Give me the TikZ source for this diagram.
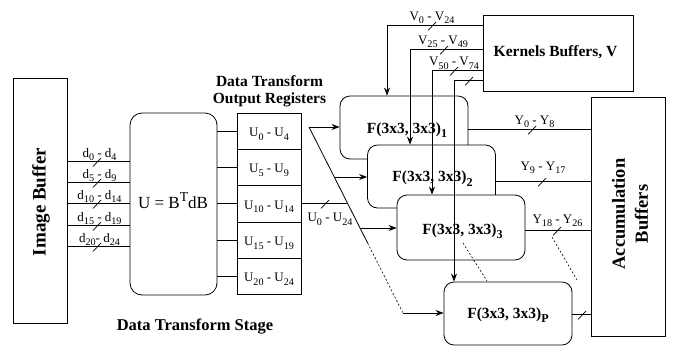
\documentclass[tikz,border=0pt]{standalone}
\usepackage{fontspec}
\setmainfont{Liberation Serif}
\usepackage{graphicx}
\usetikzlibrary{arrows.meta}
\newcommand\lo[1]{\raisebox{-0.28em}{\scalebox{0.78}{#1}}}
\newcommand\hi[1]{\raisebox{0.42em}{\scalebox{0.8}{#1}}}
\begin{document}
\begin{tikzpicture}[x=1pt,y=-1pt,line width=0.8pt,
  lbl/.style={font=\fontsize{13}{15}\selectfont,inner sep=0pt,anchor=base},
  bx/.style={draw,inner sep=0pt},
  fbx/.style={draw,fill=white,rounded corners=10pt,inner sep=0pt,minimum width=128pt,minimum height=63pt},
  ftxt/.style={font=\fontsize{15.5}{18}\selectfont\bfseries,inner sep=0pt,anchor=base},
  btxt/.style={font=\fontsize{15.5}{16}\selectfont\bfseries,inner sep=0pt,align=center},
  arr/.style={-{Stealth[length=8pt,width=6pt]}},
  dsh/.style={line width=0.6pt,dash pattern=on 2pt off 2pt},
  slashmark/.pic={\draw[line width=0.7pt] (-4,5.5) -- (4,-3);}
  ]
\useasboundingbox (0,0) rectangle (674,349);
% Image buffer
\node[bx,minimum width=54pt,minimum height=245pt] (ib) at (40,200.5) {};
\node[font=\fontsize{19}{20}\selectfont\bfseries,rotate=90,inner sep=0pt] (ibt) at (41,202) {Image Buffer};
% U block
\node[bx,rounded corners=12pt,minimum width=87pt,minimum height=182pt] (ub) at (173.5,204) {};
\node[font=\fontsize{17}{18}\selectfont,inner sep=0pt,anchor=base] (ubt) at (173,208.3) {U = B\hi{T}dB};
% registers
\node[bx,minimum width=64pt,minimum height=181pt] (rg) at (269,203.5) {};
\foreach \yy in {149,185,222,258} \draw (rg.west |- 0,\yy) -- (rg.east |- 0,\yy);
\node[lbl] (r0) at (269,136.5) {U\lo{0} - U\lo{4}};
\node[lbl] (r1) at (269,172.5) {U\lo{5} - U\lo{9}};
\node[lbl] (r2) at (269,209) {U\lo{10} - U\lo{14}};
\node[lbl] (r3) at (269,245.5) {U\lo{15} - U\lo{19}};
\node[lbl] (r4) at (269,281.5) {U\lo{20} - U\lo{24}};
\node[btxt,anchor=base] (ttl1) at (269.5,86.7) {Data Transform};
\node[btxt,anchor=base] (ttl2) at (269.5,103.3) {Output Registers};
\node[btxt,anchor=base,font=\fontsize{16.5}{18}\selectfont\bfseries] (stg) at (195,330) {Data Transform Stage};
% d lines
\foreach \yy/\tx [count=\i] in {161/{d\lo{0} - d\lo{4}},182/{d\lo{5} - d\lo{9}},203/{d\lo{10} - d\lo{14}},225/{d\lo{15} - d\lo{19}},246/{d\lo{20}- d\lo{24}}}{
  \draw (ib.east |- 0,\yy) -- (ub.west |- 0,\yy);
  \pic at (97,\yy) {slashmark};
  \node[lbl] (dl\i) at (99.5,\yy-4) {\tx};
}
% U to registers
\foreach \yy in {131,167,203,240,276} \draw (ub.east |- 0,\yy) -- (rg.west |- 0,\yy);
% F boxes
\node[fbx] (f1) at (404,127.5) {};
\node[fbx] (f2) at (431.5,176.5) {};
\node[fbx,minimum height=65pt] (f3) at (461,227.5) {};
\node[fbx] (fp) at (508,313.5) {};
\node[ftxt] (f1t) at (407,133) {F(3x3, 3x3)\lo{1}};
\node[ftxt] (f2t) at (432.5,181.7) {F(3x3, 3x3)\lo{2}};
\node[ftxt] (f3t) at (462.5,234) {F(3x3, 3x3)\lo{3}};
\node[ftxt] (fpt) at (508,318) {F(3x3, 3x3)\lo{P}};
% kernel buffers
\node[bx,minimum width=150pt,minimum height=76pt] (kb) at (558,53) {};
\node[btxt,anchor=base] (kbt) at (555.5,56.7) {Kernels Buffers, V};
% accumulation buffers
\node[bx,minimum width=74pt,minimum height=239pt] (ab) at (628,216.5) {};
\node[font=\fontsize{18.5}{23}\selectfont\bfseries,rotate=90,inner sep=0pt,align=center] (abt) at (630,214) {Accumulation\\Buffers};
% diagonal distribution
\coordinate (d0) at (309,127);
\coordinate (dm) at (367.6,243);
\coordinate (d1) at (403,313);
\coordinate (q2) at (334.3,177);
\coordinate (q3) at (360,228);
\coordinate (qb) at (347.4,203);
\draw[arr] (d0) -- (f1.west |- d0);
\draw (d0) -- (dm);
\draw[dsh] (dm) -- (d1);
\draw[arr] (d1) -- (fp.west |- d1);
\draw[arr] (q2) -- (f2.west |- q2);
\draw[arr] (q3) -- (f3.west |- q3);
\draw (rg.east |- qb) -- (qb);
\pic at (325,203) {slashmark};
\node[lbl] (ubus) at (330,221.7) {U\lo{0} - U\lo{24}};
% kernel lines
\coordinate (k1) at (387,25);
\coordinate (k2) at (410,49);
\coordinate (k3) at (432,70);
\coordinate (k4) at (454,80);
\draw[arr] (kb.west |- k1) -- (k1) -- (f1.north -| k1);
\draw[arr] (kb.west |- k2) -- (k2) -- (f2.north -| k2);
\draw[arr] (kb.west |- k3) -- (k3) -- (f3.north -| k3);
\draw[arr] (kb.west |- k4) -- (k4) -- (fp.north -| k4);
\pic at (432,25) {slashmark};
\pic at (444,49) {slashmark};
\pic at (454,70) {slashmark};
\pic at (469,80) {slashmark};
\node[lbl] (v1) at (432,20) {V\lo{0} - V\lo{24}};
\node[lbl] (v2) at (443,44) {V\lo{25} - V\lo{49}};
\node[lbl] (v3) at (454,65.7) {V\lo{50} - V\lo{74}};
% outputs
\draw (f1.east |- 0,129) -- (ab.west |- 0,129);
\draw (f2.east |- 0,181) -- (ab.west |- 0,181);
\draw (f3.east |- 0,230) -- (ab.west |- 0,230);
\draw (fp.east |- 0,314) -- (ab.west |- 0,314);
\pic at (532,129) {slashmark};
\pic at (542,181) {slashmark};
\pic at (557,230) {slashmark};
\pic at (582,314) {slashmark};
\node[lbl] (y1) at (534.5,124) {Y\lo{0} - Y\lo{8}};
\node[lbl] (y2) at (543,170) {Y\lo{9} - Y\lo{17}};
\node[lbl] (y3) at (557.5,223.3) {Y\lo{18} - Y\lo{26}};
% dotted continuation
\coordinate (e1) at (463,243);
\coordinate (e2) at (487,281);
\coordinate (e3) at (552,237);
\coordinate (e4) at (577,280);
\draw[dsh] (e1) -- (e2);
\draw[dsh] (e3) -- (e4);
\end{tikzpicture}
\end{document}
